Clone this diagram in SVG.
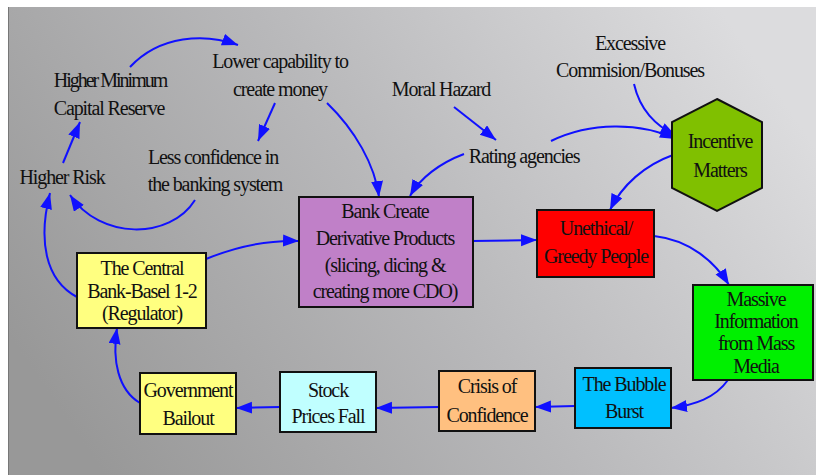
<svg xmlns="http://www.w3.org/2000/svg" width="818" height="475" viewBox="0 0 818 475">
<defs>
<linearGradient id="bg" x1="0" y1="0.7" x2="1" y2="0.3">
<stop offset="0" stop-color="#989898"/>
<stop offset="0.5" stop-color="#b8b8ba"/>
<stop offset="1" stop-color="#dcdcde"/>
</linearGradient>
<marker id="ah" markerUnits="userSpaceOnUse" markerWidth="18" markerHeight="13" refX="16" refY="6" orient="auto">
<path d="M0,0 L16,6 L0,12 z" fill="#1010ff"/>
</marker>
<style>
text{font-family:'Liberation Serif','Times New Roman',serif;font-size:20px;fill:#111;letter-spacing:-1.1px;text-anchor:middle}
.c path{fill:none;stroke:#1010ff;stroke-width:2;marker-end:url(#ah)}
.n rect,.n polygon{stroke:#111;stroke-width:2}
</style>
</defs>
<rect width="818" height="475" fill="#ffffff"/>
<rect x="8" y="7" width="808" height="468" fill="url(#bg)"/>
<line x1="8.5" y1="7" x2="8.5" y2="475" stroke="#777" stroke-width="1"/>

<g class="c" id="connectors">
<path d="M130,67 C160,35 205,33 238,45"/>
<path d="M275,103 L258,141"/>
<path d="M195,200 C170,240 100,240 70,195"/>
<path d="M63,163 L80,122"/>
<path d="M77,297 C45,280 38,240 50,193"/>
<path d="M327,103 C355,130 375,165 379,197"/>
<path d="M206,259 C240,245 270,240 299,241"/>
<path d="M454,107 L496,140"/>
<path d="M464,154 C440,163 420,178 410,196"/>
<path d="M551,141 C590,122 640,122 676,139"/>
<path d="M634,84 C640,110 655,125 676,136"/>
<path d="M673,155 C645,165 622,185 610,210"/>
<path d="M472,241 L537,240"/>
<path d="M654,236 C690,240 715,262 729,285"/>
<path d="M728,380 C715,398 695,405 671,408"/>
<path d="M575,406 L535,407"/>
<path d="M439,407 L376,408"/>
<path d="M280,407 L236,408"/>
<path d="M140,403 C118,390 112,360 117,328"/>
</g>

<g font-family="'Liberation Serif', 'Times New Roman', serif">
<g id="lbl-lower"><text x="280" y="68">Lower capability to</text><text x="280" y="96">create money</text></g>
<g id="lbl-higher-min"><text x="110" y="87" style="letter-spacing:-2px">Higher Minimum</text><text x="109" y="115">Capital Reserve</text></g>
<g id="lbl-less"><text x="213" y="164">Less confidence in</text><text x="215" y="191">the banking system</text></g>
<g id="lbl-risk"><text x="62" y="184">Higher Risk</text></g>
<g id="lbl-moral"><text x="441" y="96">Moral Hazard</text></g>
<g id="lbl-excessive"><text x="630" y="50">Excessive</text><text x="630" y="77">Commision/Bonuses</text></g>
<g id="lbl-rating"><text x="524" y="163">Rating agencies</text></g>

<g class="n" id="n-incentive"><polygon points="717,99 762,122 762,188 717,211 672,188 672,122" fill="#80c000"/><text x="720" y="148">Incentive</text><text x="720" y="177">Matters</text></g>
<g class="n" id="n-bank"><rect x="299" y="197" width="174" height="110" fill="#c080c8"/><text x="385" y="218">Bank Create</text><text x="385" y="245">Derivative Products</text><text x="385" y="272">(slicing, dicing &amp;</text><text x="385" y="298">creating more CDO)</text></g>
<g class="n" id="n-unethical"><rect x="537" y="210" width="117" height="67" fill="#ff0000"/><text x="596" y="235">Unethical/</text><text x="596" y="263">Greedy People</text></g>
<g class="n" id="n-massive"><rect x="693" y="285" width="120" height="95" fill="#00f000"/><text x="756" y="306">Massive</text><text x="756" y="328">Information</text><text x="756" y="350">from Mass</text><text x="756" y="373">Media</text></g>
<g class="n" id="n-bubble"><rect x="575" y="368" width="96" height="60" fill="#00c0ff"/><text x="624" y="391">The Bubble</text><text x="624" y="418">Burst</text></g>
<g class="n" id="n-crisis"><rect x="439" y="371" width="96" height="60" fill="#ffc080"/><text x="487" y="393">Crisis of</text><text x="487" y="422">Confidence</text></g>
<g class="n" id="n-stock"><rect x="280" y="372" width="96" height="60" fill="#c0ffff"/><text x="328" y="397">Stock</text><text x="328" y="423">Prices Fall</text></g>
<g class="n" id="n-gov"><rect x="140" y="373" width="96" height="61" fill="#ffff80"/><text x="188" y="397">Government</text><text x="188" y="425">Bailout</text></g>
<g class="n" id="n-central"><rect x="77" y="253" width="129" height="75" fill="#ffff80"/><text x="142" y="275">The Central</text><text x="142" y="298">Bank-Basel 1-2</text><text x="142" y="320">(Regulator)</text></g>
</g>
</svg>
